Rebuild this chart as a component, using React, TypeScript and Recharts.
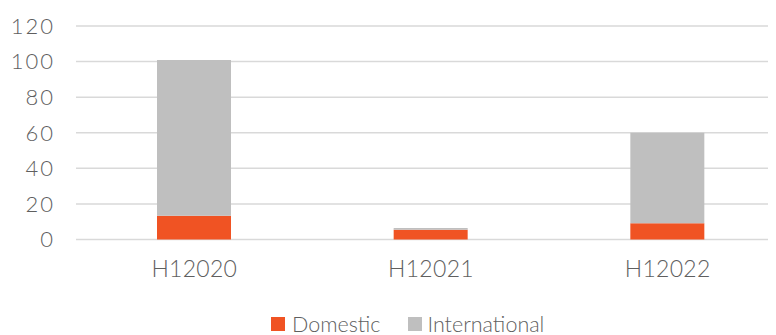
import React from "react";
import { BarChart, Bar, XAxis, YAxis, CartesianGrid } from "recharts";

const categories = ["H12020", "H12021", "H12022"];
const domestic = [13.4, 5.5, 9.1];
const international = [87.5, 1.0, 50.9];
const yTicks = [0, 20, 40, 60, 80, 100, 120];

const data = categories.map((c, i) => ({
  name: c,
  Domestic: domestic[i],
  International: international[i],
}));

const ORANGE = "#F05323";
const GRAY = "#BFBFBF";
const TEXT = "#5f5f5f";
const FONT = "Lato, 'Open Sans', sans-serif";

export default function App() {
  return (
    <div
      style={{
        position: "relative",
        width: 776,
        height: 335,
        overflow: "hidden",
        margin: "-8px 0 0 -8px",
        background: "#fff",
        fontFamily: FONT,
      }}
    >
      <BarChart
        width={786}
        height={300}
        data={data}
        margin={{ top: 26, right: 0, bottom: 0, left: 0 }}
      >
        <CartesianGrid vertical={false} stroke="#D9D9D9" strokeWidth={1.5} />
        <XAxis
          dataKey="name"
          axisLine={false}
          tickLine={false}
          tickSize={0}
          tickMargin={21}
          height={60.5}
          tick={{ fill: TEXT, fontSize: 23, fontFamily: FONT, fontWeight: 300, letterSpacing: 0.3 }}
        />
        <YAxis
          domain={[0, 120]}
          ticks={yTicks}
          width={76}
          axisLine={false}
          tickLine={false}
          tickSize={0}
          tickMargin={21}
          tick={{ fill: TEXT, fontSize: 22, fontFamily: FONT, fontWeight: 300, letterSpacing: 2 }}
        />
        <Bar dataKey="Domestic" stackId="a" fill={ORANGE} barSize={74} isAnimationActive={false} />
        <Bar dataKey="International" stackId="a" fill={GRAY} barSize={74} isAnimationActive={false} />
      </BarChart>
      <div
        style={{
          position: "absolute",
          left: 271,
          top: 311,
          display: "flex",
          alignItems: "center",
          color: TEXT,
          fontSize: 21.5,
          fontWeight: 300,
          whiteSpace: "nowrap",
        }}
      >
        <span style={{ display: "inline-block", width: 14, height: 14, background: ORANGE, marginRight: 7 }} />
        <span style={{ marginRight: 27 }}>Domestic</span>
        <span style={{ display: "inline-block", width: 14, height: 14, background: GRAY, marginRight: 6 }} />
        <span>International</span>
      </div>
    </div>
  );
}
